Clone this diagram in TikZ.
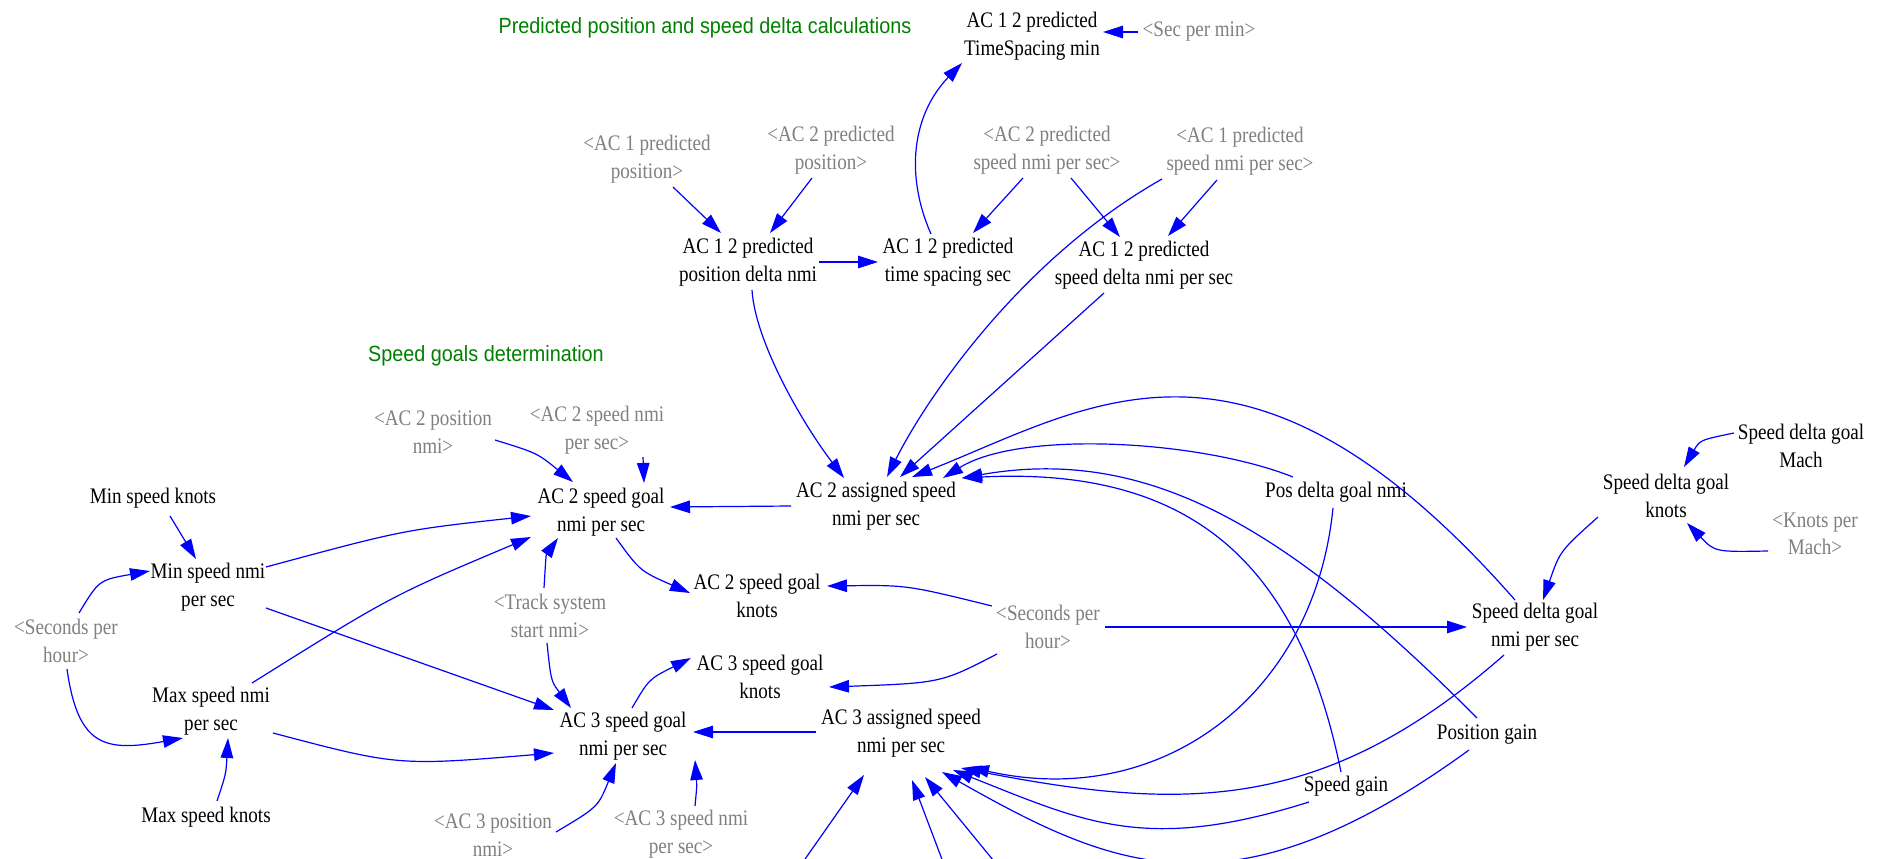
\documentclass[tikz,border=0pt]{standalone}
\usepackage{fontspec}
\setmainfont{Liberation Serif}[FakeStretch=0.86]
\newfontfamily\sansttl{Liberation Sans}[FakeStretch=0.9]
\usetikzlibrary{arrows.meta,calc}
\definecolor{vblue}{RGB}{0,0,255}
\definecolor{vgray}{RGB}{128,128,128}
\definecolor{vgreen}{RGB}{0,128,0}
\begin{document}
\begin{tikzpicture}[x=1pt,y=-1pt,
  var/.style={font=\fontsize{22.2}{27.5}\selectfont, align=center, inner sep=0pt, text=black},
  ghost/.style={var, text=vgray},
  ttl/.style={font=\sansttl\fontsize{22}{26}\selectfont, text=vgreen, inner sep=0pt},
  arr/.style={draw=vblue, line width=1.2pt, -{Triangle[length=20pt,width=12.5pt]}},
]
\useasboundingbox (0,0) rectangle (1885,859);
\fill[white] (0,0) rectangle (1885,859);
\clip (0,0) rectangle (1885,859);

% titles
\node[ttl] (t1) at (705,28) {Predicted position and speed delta calculations};
\node[ttl] (t2) at (486,356) {Speed goals determination};

% variables
\node[var] (tsm) at (1032,36) {AC 1 2 predicted\\TimeSpacing min};
\node[ghost] (spm) at (1199,32) {<Sec per min>};
\node[ghost] (ac1pp) at (647,159) {<AC 1 predicted\\position>};
\node[ghost] (ac2pp) at (831,150) {<AC 2 predicted\\position>};
\node[var] (pdn) at (748,262) {AC 1 2 predicted\\position delta nmi};
\node[var] (tss) at (948,262) {AC 1 2 predicted\\time spacing sec};
\node[ghost] (ac2ps) at (1047,150) {<AC 2 predicted\\speed nmi per sec>};
\node[ghost] (ac1ps) at (1240,151) {<AC 1 predicted\\speed nmi per sec>};
\node[var] (sdn) at (1144,265) {AC 1 2 predicted\\speed delta nmi per sec};
\node[ghost] (ac2pos) at (433,432) {<AC 2 position\\nmi>};
\node[ghost] (ac2spd) at (597,430) {<AC 2 speed nmi\\per sec>};
\node[var] (ac2g) at (601,512) {AC 2 speed goal\\nmi per sec};
\node[var] (ac2a) at (876,506) {AC 2 assigned speed\\nmi per sec};
\node[var] (pdg) at (1336,492) {Pos delta goal nmi};
\node[var] (sdgm) at (1801,446) {Speed delta goal\\Mach};
\node[var] (sdgk) at (1666,496) {Speed delta goal\\knots};
\node[ghost] (kpm) at (1815,534) {<Knots per\\Mach>};
\node[var] (mink) at (153,498) {Min speed knots};
\node[var] (minn) at (208,587) {Min speed nmi\\per sec};
\node[ghost] (shl) at (66,641) {<Seconds per\\hour>};
\node[ghost] (track) at (550,616) {<Track system\\start nmi>};
\node[var] (ac2k) at (757,596) {AC 2 speed goal\\knots};
\node[ghost] (shm) at (1048,627) {<Seconds per\\hour>};
\node[var] (sdgn) at (1535,627) {Speed delta goal\\nmi per sec};
\node[var] (ac3k) at (760,677) {AC 3 speed goal\\knots};
\node[var] (maxn) at (211,711) {Max speed nmi\\per sec};
\node[var] (ac3g) at (623,736) {AC 3 speed goal\\nmi per sec};
\node[var] (ac3a) at (901,733) {AC 3 assigned speed\\nmi per sec};
\node[var] (pg) at (1487,735) {Position gain};
\node[var] (sg) at (1346,786) {Speed gain};
\node[var] (maxk) at (206,817) {Max speed knots};
\node[ghost] (ac3pos) at (493,835) {<AC 3 position\\nmi>};
\node[ghost] (ac3spd) at (681,834) {<AC 3 speed nmi\\per sec>};

% off-picture sources
\coordinate (o1) at (777,899);
\coordinate (o2) at (957,899);
\coordinate (o3) at (1025,899);

% top section
\draw[arr] ($(tss)+(-17,-28)$) .. controls (905,175) and (912,115) .. ($(tsm)+(-70,27)$);
\draw[arr] ($(spm)+(-61,0)$) -- ($(tsm)+(71,-4)$);
\draw[arr] ($(ac1pp)+(26,28)$) -- ($(pdn)+(-27,-29)$);
\draw[arr] ($(ac2pp)+(-19,28)$) -- ($(pdn)+(22,-29)$);
\draw[arr] ($(pdn)+(71,0)$) -- ($(tss)+(-70,0)$);
\draw[arr] ($(ac2ps)+(-24,28)$) -- ($(tss)+(25,-29)$);
\draw[arr] ($(ac2ps)+(24,28)$) -- ($(sdn)+(-24,-28)$);
\draw[arr] ($(ac1ps)+(-23,29)$) -- ($(sdn)+(24,-29)$);
\draw[arr] ($(ac1ps)+(-78,28)$) .. controls (1019,260) and (925,401) .. ($(ac2a)+(11,-29)$);
\draw[arr] ($(sdn)+(-40,28)$) -- ($(ac2a)+(24,-29)$);
\draw[arr] ($(pdn)+(4,28)$) .. controls (755,340) and (800,420) .. ($(ac2a)+(-32,-28)$);

% arcs into AC 2 assigned
\draw[arr] ($(sdgn)+(-20,-27)$) .. controls (1248,296) and (1091,406) .. ($(ac2a)+(36,-29)$);
\draw[arr] ($(pdg)+(-43,-15)$) .. controls (1200,440) and (1020,430) .. ($(ac2a)+(67,-28)$);
\draw[arr] ($(pg)+(-10,-17)$) .. controls (1290,530) and (1150,445) .. ($(ac2a)+(86,-28)$);
\draw[arr] ($(sg)+(-5,-14)$) .. controls (1300,571) and (1199,466) .. ($(ac2a)+(86,-28)$);

% arcs into AC 3 assigned
\draw[arr] ($(pdg)+(-3,16)$) .. controls (1314,698) and (1159,810) .. ($(ac3a)+(68,34)$);
\draw[arr] ($(sdgn)+(-31,28)$) .. controls (1325,812) and (1186,812) .. ($(ac3a)+(60,35)$);
\draw[arr] ($(sg)+(-37,16)$) .. controls (1147,853) and (1086,823) .. ($(ac3a)+(52,37)$);
\draw[arr] ($(pg)+(-18,15)$) .. controls (1231,923) and (1112,868) .. ($(ac3a)+(41,39)$);
\draw[arr] (o1) -- ($(ac3a)+(-37,42)$);
\draw[arr] (o2) -- ($(ac3a)+(11,47)$);
\draw[arr] (o3) -- ($(ac3a)+(24,44)$);

% middle section
\draw[arr] ($(ac2a)+(-85,0)$) -- ($(ac2g)+(69,-5)$);
\draw[arr] ($(ac3a)+(-85,-1)$) -- ($(ac3g)+(70,-4)$);
\draw[arr] ($(ac2pos)+(62,8)$) .. controls (537,453) .. ($(ac2g)+(-28,-30)$);
\draw[arr] ($(ac2spd)+(46,27)$) -- ($(ac2g)+(43,-29)$);
\draw[arr] ($(mink)+(17,18)$) -- ($(minn)+(-12,-28)$);
\draw[arr] ($(shl)+(13,-28)$) .. controls (99,580) .. ($(minn)+(-58,-16)$);
\draw[arr] ($(shl)+(1,28)$) .. controls (78,747) and (105,752) .. ($(maxn)+(-28,27)$);
\draw[arr] ($(maxk)+(11,-16)$) .. controls (226,774) .. ($(maxn)+(17,27)$);
\draw[arr] ($(minn)+(58,-20)$) .. controls (403,530) .. ($(ac2g)+(-70,4)$);
\draw[arr] ($(maxn)+(41,-28)$) .. controls (391,596) .. ($(ac2g)+(-70,25)$);
\draw[arr] ($(minn)+(58,21)$) -- ($(ac3g)+(-69,-26)$);
\draw[arr] ($(maxn)+(62,22)$) .. controls (398,766) .. ($(ac3g)+(-69,17)$);
\draw[arr] ($(track)+(-6,-28)$) .. controls (546,555) .. ($(ac2g)+(-43,26)$);
\draw[arr] ($(track)+(-3,27)$) .. controls (551,681) .. ($(ac3g)+(-52,-28)$);
\draw[arr] ($(ac2g)+(15,26)$) .. controls (640,571) .. ($(ac2k)+(-67,-3)$);
\draw[arr] ($(ac3g)+(9,-28)$) .. controls (649,679) .. ($(ac3k)+(-69,-19)$);
\draw[arr] ($(ac3pos)+(63,-3)$) .. controls (598,807) .. ($(ac3g)+(-7,27)$);
\draw[arr] ($(ac3spd)+(14,-28)$) .. controls (697,785) .. ($(ac3g)+(72,24)$);
\draw[arr] ($(shm)+(-56,-21)$) .. controls (907,585) .. ($(ac2k)+(70,-10)$);
\draw[arr] ($(shm)+(-51,27)$) .. controls (941,683) .. ($(ac3k)+(69,10)$);
\draw[arr] ($(shm)+(57,0)$) -- ($(sdgn)+(-68,0)$);
\draw[arr] ($(sdgk)+(-68,21)$) .. controls (1560,551) .. ($(sdgn)+(8,-27)$);
\draw[arr] ($(sdgm)+(-67,-13)$) .. controls (1700,440) .. ($(sdgk)+(18,-29)$);
\draw[arr] ($(kpm)+(-47,17)$) .. controls (1715,552) .. ($(sdgk)+(21,27)$);
\end{tikzpicture}
\end{document}
